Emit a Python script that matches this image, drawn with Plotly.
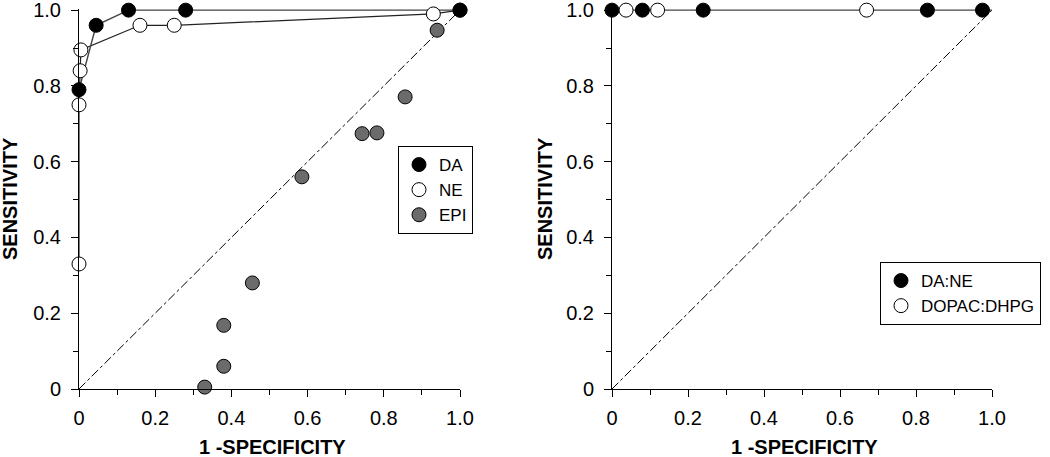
import plotly.graph_objects as go

# ---------------- data ----------------
da_x = [0.0, 0.045, 0.13, 0.28, 1.0]
da_y = [0.79, 0.96, 1.0, 1.0, 1.0]

ne_x = [0.0, 0.0, 0.003, 0.005, 0.16, 0.25, 0.93, 1.0]
ne_y = [0.33, 0.75, 0.84, 0.895, 0.96, 0.96, 0.99, 1.0]

epi_x = [0.33, 0.38, 0.38, 0.455, 0.585, 0.743, 0.782, 0.856, 0.94]
epi_y = [0.005, 0.06, 0.168, 0.28, 0.56, 0.674, 0.676, 0.771, 0.947]

dane_x = [0.0, 0.08, 0.24, 0.83, 0.975, 1.0]
dane_y = [1.0, 1.0, 1.0, 1.0, 1.0, 1.0]

dopac_x = [0.037, 0.12, 0.67]
dopac_y = [1.0, 1.0, 1.0]

diag = [0.0, 1.0]

tick_vals = [0, 0.2, 0.4, 0.6, 0.8, 1.0]
tick_text = ["0", "0.2", "0.4", "0.6", "0.8", "1.0"]

# ---------------- figure ----------------
W, H = 1050, 457
FONT = "Liberation Sans, Arial, Helvetica, sans-serif"
MS = 14
mline = dict(color="#000000", width=1)

fig = go.Figure()

# left panel: diagonal + lines
fig.add_trace(go.Scatter(x=diag, y=diag, mode="lines", line=dict(color="black", width=1, dash="dashdot"),
                         showlegend=False, hoverinfo="skip", xaxis="x", yaxis="y"))
fig.add_trace(go.Scatter(x=ne_x, y=ne_y, mode="lines", line=dict(color="#222", width=1.2),
                         showlegend=False, xaxis="x", yaxis="y"))
fig.add_trace(go.Scatter(x=da_x, y=da_y, mode="lines", line=dict(color="#444", width=1.4),
                         showlegend=False, xaxis="x", yaxis="y"))
# left markers
fig.add_trace(go.Scatter(x=epi_x, y=epi_y, mode="markers", name="EPI",
                         marker=dict(size=MS, color="#6b6b6b", line=mline),
                         cliponaxis=False, legend="legend", legendrank=3, xaxis="x", yaxis="y"))
fig.add_trace(go.Scatter(x=ne_x, y=ne_y, mode="markers", name="NE",
                         marker=dict(size=MS, color="white", line=mline),
                         cliponaxis=False, legend="legend", legendrank=2, xaxis="x", yaxis="y"))
fig.add_trace(go.Scatter(x=da_x, y=da_y, mode="markers", name="DA",
                         marker=dict(size=MS, color="black", line=mline),
                         cliponaxis=False, legend="legend", legendrank=1, xaxis="x", yaxis="y"))

# right panel
fig.add_trace(go.Scatter(x=diag, y=diag, mode="lines", line=dict(color="black", width=1, dash="dashdot"),
                         showlegend=False, hoverinfo="skip", xaxis="x2", yaxis="y2"))
fig.add_trace(go.Scatter(x=dane_x, y=dane_y, mode="lines", line=dict(color="#444", width=1.4),
                         showlegend=False, xaxis="x2", yaxis="y2"))
fig.add_trace(go.Scatter(x=dane_x[:-1], y=dane_y[:-1], mode="markers", name="DA:NE",
                         marker=dict(size=MS, color="black", line=mline),
                         cliponaxis=False, legend="legend2", legendrank=1, xaxis="x2", yaxis="y2"))
fig.add_trace(go.Scatter(x=dopac_x, y=dopac_y, mode="markers", name="DOPAC:DHPG",
                         marker=dict(size=MS, color="white", line=mline),
                         cliponaxis=False, legend="legend2", legendrank=2, xaxis="x2", yaxis="y2"))

yd = [1 - 389 / H, 1 - 9 / H]

def axis(domain, anchor, standoff):
    return dict(domain=domain, anchor=anchor, range=[0, 1.003], showgrid=False, zeroline=False,
                automargin=False, ticklabeloverflow="allow",
                showline=True, linecolor="black", linewidth=1, ticks="outside", ticklen=7,
                tickcolor="black", tickwidth=1, tickvals=tick_vals, ticktext=tick_text,
                tickfont=dict(family=FONT, size=20, color="black"),
                minor=dict(tickvals=[0.1, 0.3, 0.5, 0.7, 0.9], ticks="outside", ticklen=5,
                           tickcolor="black", tickwidth=1),
                ticklabelstandoff=standoff)

xa = axis([79 / W, 460 / W], "y", 4); xa["range"] = [0, 1]
xa2 = axis([612 / W, 992 / W], "y2", 4); xa2["range"] = [0, 1]
ya = axis(yd, "x", 6)
ya2 = axis(yd, "x2", 6)

legend_common = dict(bgcolor="white", bordercolor="black", borderwidth=1,
                     font=dict(family=FONT, size=17, color="black"),
                     xanchor="left", yanchor="top", tracegroupgap=0, itemwidth=30)

title_font = dict(family=FONT, size=20, color="black")
fig.update_layout(
    width=W, height=H, margin=dict(l=0, r=0, t=0, b=0, autoexpand=False),
    paper_bgcolor="white", plot_bgcolor="white",
    xaxis=xa, yaxis=ya, xaxis2=xa2, yaxis2=ya2,
    legend=dict(x=398 / W, y=1 - 146 / H, **legend_common),
    legend2=dict(x=880 / W, y=1 - 262 / H, **legend_common),
    annotations=[
        dict(text="<b>SENSITIVITY</b>", textangle=-90, x=10 / W, y=1 - 199 / H, xref="paper", yref="paper",
             xanchor="center", yanchor="middle", showarrow=False, font=title_font),
        dict(text="<b>SENSITIVITY</b>", textangle=-90, x=545 / W, y=1 - 199 / H, xref="paper", yref="paper",
             xanchor="center", yanchor="middle", showarrow=False, font=title_font),
        dict(text="<b>1 -SPECIFICITY</b>", x=272 / W, y=1 - 447 / H, xref="paper", yref="paper",
             xanchor="center", yanchor="middle", showarrow=False, font=title_font),
        dict(text="<b>1 -SPECIFICITY</b>", x=804 / W, y=1 - 447 / H, xref="paper", yref="paper",
             xanchor="center", yanchor="middle", showarrow=False, font=title_font),
    ],
)

fig.write_html("out.html", config={"displayModeBar": False},
               post_script="document.body.style.margin='0';document.body.style.overflow='hidden';")
